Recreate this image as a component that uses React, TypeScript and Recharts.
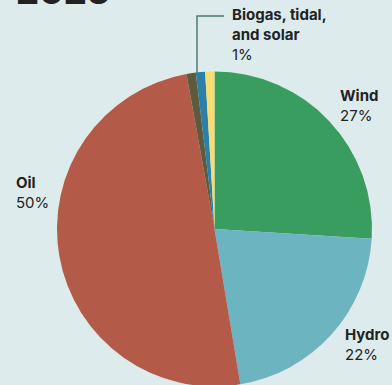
import { PieChart, Pie, Cell } from "recharts"

const SOURCES = ["Wind", "Hydro", "Oil", "Biogas", "Tidal", "Solar"]
const SHARES = [26, 21.4, 49.8, 0.95, 0.95, 0.95]
const COLORS = ["#3a9d60", "#6cb4bf", "#b35b48", "#5f5a3b", "#2a80a6", "#f6dc72"]

const LABEL_NAMES = ["Wind", "Hydro", "Oil"]
const LABEL_PCTS = ["27%", "22%", "50%"]
const SMALL_LABEL = ["Biogas, tidal,", "and solar"]
const SMALL_PCT = "1%"
const TITLE = "2025"

const BG = "#deebec"
const FONT = "Inter, 'Noto Sans', sans-serif"

const chartData = SOURCES.map((name, i) => ({ name, value: SHARES[i] }))

const labelPos = [
  { left: 340, top: 86 },
  { left: 345, top: 325 },
  { left: 16, top: 173 },
]

export default function App() {
  return (
    <div
      style={{
        position: "fixed",
        left: 0,
        top: 0,
        width: 392,
        height: 385,
        background: BG,
        overflow: "hidden",
        fontFamily: FONT,
        color: "#222",
      }}
    >
      <div
        style={{
          position: "absolute",
          left: 16,
          top: -27,
          fontSize: 36,
          fontWeight: 800,
          lineHeight: "36px",
        }}
      >
        {TITLE}
      </div>

      <PieChart
        width={392}
        height={385}
        margin={{ top: 0, right: 0, bottom: 0, left: 0 }}
        style={{ position: "absolute", left: 0, top: 0 }}
      >
        <Pie
          data={chartData}
          dataKey="value"
          nameKey="name"
          cx={214.5}
          cy={229}
          outerRadius={157.5}
          startAngle={90}
          endAngle={-270}
          stroke="none"
          isAnimationActive={false}
        >
          {chartData.map((_, index) => (
            <Cell key={`cell-${index}`} fill={COLORS[index]} />
          ))}
        </Pie>
      </PieChart>

      {/* leader for the tiny slices */}
      <svg width={392} height={385} style={{ position: "absolute", left: 0, top: 0 }}>
        <polyline points="197,73 197,16 224,16" fill="none" stroke="#4f7a70" strokeWidth={1.5} />
      </svg>

      <div style={{ position: "absolute", left: 232, top: 5, fontSize: 15, lineHeight: "20px" }}>
        <div style={{ fontWeight: 700 }}>{SMALL_LABEL[0]}</div>
        <div style={{ fontWeight: 700 }}>{SMALL_LABEL[1]}</div>
        <div>{SMALL_PCT}</div>
      </div>

      {LABEL_NAMES.map((name, i) => (
        <div
          key={name}
          style={{
            position: "absolute",
            left: labelPos[i].left,
            top: labelPos[i].top,
            fontSize: 15,
            lineHeight: "20px",
          }}
        >
          <div style={{ fontWeight: 700 }}>{name}</div>
          <div>{LABEL_PCTS[i]}</div>
        </div>
      ))}
    </div>
  )
}
